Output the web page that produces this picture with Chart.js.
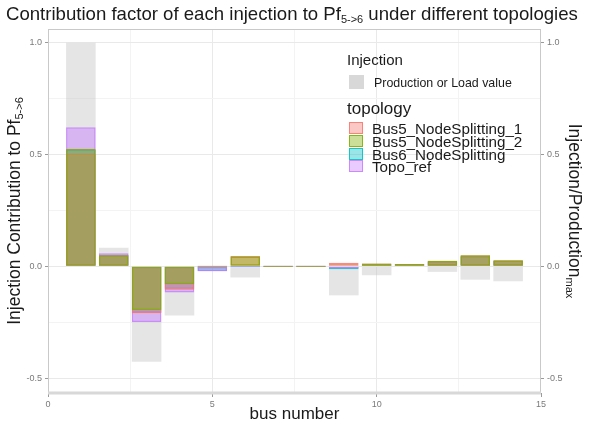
<!DOCTYPE html>
<html lang="en">
<head>
<meta charset="UTF-8">
<title>Contribution factor</title>
<script src="https://cdn.jsdelivr.net/npm/chart.js@4.4.1/dist/chart.umd.min.js"></script>
<style>
  body { margin: 0; background: #fff; }
</style>
</head>
<body>
<canvas id="chart" width="589" height="422"></canvas>
<script>
// data
const buses = [1, 2, 3, 4, 5, 6, 7, 8, 9, 10, 11, 12, 13, 14];
const prodLoad = [1.0, 0.083, -0.427, -0.22, -0.01, -0.05, 0, 0, -0.13, -0.04, 0, -0.025, -0.06, -0.067];
const bus5Split1 = [0.505, 0.05, -0.21, -0.105, 0, 0.046, 0, 0, 0.016, 0.012, 0.01, 0.025, 0.049, 0.027];
const bus5Split2 = [0.525, 0.05, -0.196, -0.08, 0, 0.044, 0, 0, 0.005, 0.012, 0.01, 0.025, 0.049, 0.027];
const bus6Split = [0.52, 0.052, -0.208, -0.1, -0.022, 0, 0, 0, -0.013, 0.008, 0.008, 0.022, 0.045, 0.025];
const topoRef = [0.622, 0.058, -0.249, -0.117, -0.022, 0, 0, 0, -0.01, 0.008, 0.008, 0.022, 0.045, 0.025];

const topoLabels = ['Bus5_NodeSplitting_1', 'Bus5_NodeSplitting_2', 'Bus6_NodeSplitting', 'Topo_ref'];
const topoColors = ['#F8766D', '#7CAE00', '#00BFC4', '#C77CFF'];
const topoValues = [bus5Split1, bus5Split2, bus6Split, topoRef];
const topoOrder = [2, 1, 4, 3];   // lower = drawn on top

const xTicks = [0, 5, 10, 15];
const xMinor = [2.5, 7.5, 12.5];
const yTicks = [-0.5, 0, 0.5, 1.0];
const yMinor = [-0.25, 0.25, 0.75];

const FONT = '"Liberation Sans", Arial, sans-serif';

function rgba(hex, a) {
    let n = parseInt(hex.slice(1), 16);
    return 'rgba(' + (n >> 16) + ',' + ((n >> 8) & 255) + ',' + (n & 255) + ',' + a + ')';
}

function points(vals) {
    return buses.map((b, i) => ({ x: b, y: vals[i] }));
}

let datasets = [{
    label: 'Production or Load value',
    data: points(prodLoad),
    backgroundColor: 'rgba(190,190,190,0.4)',
    borderWidth: 0,
    order: 10
}];
topoLabels.forEach((lab, i) => {
    datasets.push({
        label: lab,
        data: points(topoValues[i]),
        backgroundColor: rgba(topoColors[i], 0.45),
        borderColor: rgba(topoColors[i], 0.85),
        borderWidth: 1.5,
        borderSkipped: false,
        minBarLength: 1,
        order: topoOrder[i]
    });
});

// draws a run of text pieces, some of them as subscripts
function drawRuns(ctx, runs, x, y, align) {
    let total = 0;
    runs.forEach(r => {
        ctx.font = r[1] + 'px ' + FONT;
        r.w = ctx.measureText(r[0]).width;
        total += r.w;
    });
    let cx = align === 'center' ? x - total / 2 : x;
    runs.forEach(r => {
        ctx.font = r[1] + 'px ' + FONT;
        ctx.fillText(r[0], cx, y + (r[2] || 0));
        cx += r.w;
    });
}

const extras = {
    id: 'extras',
    afterDraw(chart) {
        const ctx = chart.ctx;
        const a = chart.chartArea;
        ctx.save();

        // panel border
        ctx.strokeStyle = '#c9c9c9';
        ctx.lineWidth = 1;
        ctx.beginPath();
        ctx.moveTo(a.left + 0.5, a.top);
        ctx.lineTo(a.left + 0.5, a.bottom);
        ctx.moveTo(a.right - 0.5, a.top);
        ctx.lineTo(a.right - 0.5, a.bottom);
        ctx.moveTo(a.left, a.top + 0.5);
        ctx.lineTo(a.right, a.top + 0.5);
        ctx.stroke();
        ctx.strokeStyle = '#d8d8d8';
        ctx.lineWidth = 3;
        ctx.beginPath();
        ctx.moveTo(a.left, a.bottom);
        ctx.lineTo(a.right, a.bottom);
        ctx.stroke();

        ctx.fillStyle = '#1a1a1a';
        ctx.textBaseline = 'alphabetic';
        ctx.textAlign = 'left';

        // title
        drawRuns(ctx, [
            ['Contribution factor of each injection to Pf', 18.6],
            ['5->6', 11, 3],
            [' under different topologies', 18.6]
        ], 6, 20, 'left');

        // x title
        drawRuns(ctx, [['bus number', 17]], (a.left + a.right) / 2, 419, 'center');

        // left y title
        const midY = (a.top + a.bottom) / 2;
        ctx.save();
        ctx.translate(20, midY);
        ctx.rotate(-Math.PI / 2);
        drawRuns(ctx, [['Injection Contribution to Pf', 17.5], ['5->6', 11, 3]], 0, 0, 'center');
        ctx.restore();

        // right y title
        ctx.save();
        ctx.translate(569, midY);
        ctx.rotate(Math.PI / 2);
        drawRuns(ctx, [['Injection/Production', 17.5], ['max', 11, 3]], 0, 0, 'center');
        ctx.restore();

        // legend
        ctx.fillStyle = '#1a1a1a';
        drawRuns(ctx, [['Injection', 15]], 347, 65, 'left');
        ctx.fillStyle = 'rgba(190,190,190,0.6)';
        ctx.fillRect(349, 75, 15, 14);
        ctx.fillStyle = '#1a1a1a';
        drawRuns(ctx, [['Production or Load value', 12.4]], 374, 87, 'left');

        drawRuns(ctx, [['topology', 17]], 347, 114, 'left');
        const rowTop = [122, 135, 148, 160];
        topoLabels.forEach((lab, i) => {
            const y = rowTop[i];
            ctx.fillStyle = rgba(topoColors[i], 0.4);
            ctx.fillRect(349, y, 14, 12);
            ctx.strokeStyle = rgba(topoColors[i], 0.85);
            ctx.lineWidth = 1;
            ctx.strokeRect(349.5, y + 0.5, 13, 11);
            ctx.fillStyle = '#1a1a1a';
            drawRuns(ctx, [[lab, 15.2]], 372, y + 11.5, 'left');
        });

        ctx.restore();
    }
};

function gridColor(c) {
    const v = c.tick && c.tick.value;
    if (c.scale.axis === 'x' && (v === 0 || v === 15)) return 'rgba(0,0,0,0)';
    return (xTicks.includes(v) || yTicks.includes(v)) ? '#e9e9e9' : '#f3f3f3';
}

function tickColor(c) {
    const v = c.tick && c.tick.value;
    return (xTicks.includes(v) || yTicks.includes(v)) ? '#9a9a9a' : 'rgba(0,0,0,0)';
}

const tickFont = { family: FONT, size: 9 };

function yAxis(pos) {
    return {
        type: 'linear',
        position: pos,
        min: -0.567,
        max: 1.062,
        afterBuildTicks: s => { s.ticks = yTicks.concat(yMinor).sort((p, q) => p - q).map(v => ({ value: v })); },
        afterFit: s => { s.width = 48; },
        ticks: {
            callback: v => yTicks.includes(v) ? v.toFixed(1) : '',
            font: tickFont,
            color: '#7a7a7a',
            padding: 3
        },
        grid: {
            color: gridColor,
            tickColor: tickColor,
            tickLength: 3,
            drawOnChartArea: pos === 'left'
        },
        border: { display: false }
    };
}

new Chart(document.getElementById('chart').getContext('2d'), {
    type: 'bar',
    data: { datasets: datasets },
    options: {
        responsive: false,
        animation: false,
        layout: { padding: { top: 29, left: 0, right: 0, bottom: 0 } },
        datasets: { bar: { grouped: false, barPercentage: 0.9, categoryPercentage: 1 } },
        plugins: {
            legend: { display: false },
            tooltip: { enabled: false },
            title: { display: false }
        },
        scales: {
            x: {
                type: 'linear',
                min: 0,
                max: 15,
                offset: false,
                afterBuildTicks: s => { s.ticks = xTicks.concat(xMinor).sort((p, q) => p - q).map(v => ({ value: v })); },
                afterFit: s => { s.height = 29; },
                ticks: {
                    callback: v => xTicks.includes(v) ? String(v) : '',
                    font: tickFont,
                    color: '#7a7a7a',
                    padding: 2,
                    maxRotation: 0,
                    autoSkip: false
                },
                grid: {
                    offset: false,
                    color: gridColor,
                    tickColor: tickColor,
                    tickLength: 4
                },
                border: { display: false }
            },
            y: yAxis('left'),
            y2: yAxis('right')
        }
    },
    plugins: [extras]
});
</script>
</body>
</html>
